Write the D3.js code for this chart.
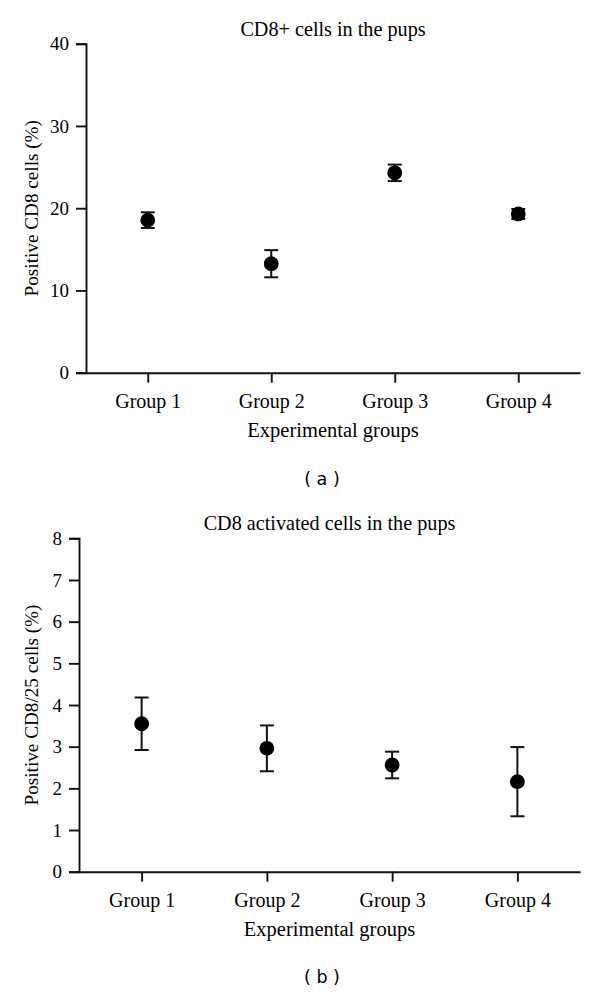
<!DOCTYPE html>
<html>
<head>
<meta charset="utf-8">
<script src="https://cdn.jsdelivr.net/npm/d3@7"></script>
<style>
  html, body { margin: 0; padding: 0; background: #fff; }
  svg { display: block; }
  .serif { font-family: "Liberation Serif", "Times New Roman", serif; fill: #000; }
  .cap { font-family: "DejaVu Sans", sans-serif; fill: #000; }
</style>
</head>
<body>
<svg id="chart" width="600" height="994"></svg>
<script>
// ---- data ----
const groups = ["Group 1", "Group 2", "Group 3", "Group 4"];

const titleA = "CD8+ cells in the pups";
const yLabelA = "Positive CD8 cells (%)";
const meanA = [18.55, 13.25, 24.3, 19.3];
const errA = [0.95, 1.65, 1.0, 0.6];
const ticksA = [0, 10, 20, 30, 40];

const titleB = "CD8 activated cells in the pups";
const yLabelB = "Positive CD8/25 cells (%)";
const meanB = [3.55, 2.96, 2.56, 2.16];
const errB = [0.63, 0.55, 0.32, 0.83];
const ticksB = [0, 1, 2, 3, 4, 5, 6, 7, 8];

const xLabel = "Experimental groups";

const svg = d3.select("#chart");

function panel(opt) {
  const g = svg.append("g");
  const x = d3.scalePoint().domain(groups).range([opt.left, opt.right]).padding(0.5);
  const y = d3.scaleLinear().domain([0, opt.max]).range([opt.bottom, opt.top]);

  // y axis
  const ya = g.append("g").attr("transform", `translate(${opt.left},0)`)
    .call(d3.axisLeft(y).tickValues(opt.ticks).tickSize(10).tickPadding(7).tickFormat(d3.format("d")));
  ya.attr("font-family", null).attr("font-size", null);
  ya.select(".domain").attr("stroke", "#111").attr("stroke-width", 1.9);
  ya.selectAll(".tick line").attr("stroke", "#111").attr("stroke-width", 1.9);
  ya.selectAll(".tick text").attr("class", "serif").style("font-size", "19px").attr("fill", "#000");

  // x axis
  const xa = g.append("g").attr("transform", `translate(0,${opt.bottom})`)
    .call(d3.axisBottom(x).tickSize(10).tickPadding(11).tickSizeOuter(0));
  xa.attr("font-family", null).attr("font-size", null);
  xa.select(".domain").attr("stroke", "#111").attr("stroke-width", 1.9);
  xa.selectAll(".tick line").attr("stroke", "#111").attr("stroke-width", 1.9);
  xa.selectAll(".tick text").attr("class", "serif").style("font-size", "20px").attr("fill", "#000");

  const cx = (opt.left + opt.right) / 2;
  // title
  g.append("text").attr("class", "serif").attr("x", cx).attr("y", opt.top - 8)
    .attr("text-anchor", "middle").style("font-size", "20.2px").text(opt.title);
  // x label
  g.append("text").attr("class", "serif").attr("x", cx).attr("y", opt.bottom + 64)
    .attr("text-anchor", "middle").style("font-size", "20.5px").text(xLabel);
  // y label
  g.append("text").attr("class", "serif")
    .attr("transform", `translate(${opt.ylabX},${(opt.top + opt.bottom) / 2}) rotate(-90)`)
    .attr("text-anchor", "middle").style("font-size", "19.2px").text(opt.ylabel);
  // caption
  g.append("text").attr("class", "cap").attr("x", 322).attr("y", opt.capY)
    .attr("text-anchor", "middle").style("font-size", "17.5px").attr("xml:space", "preserve")
    .text(opt.caption);

  // error bars
  const cap = 7;
  const eb = g.append("g").attr("stroke", "#111").attr("stroke-width", 2);
  groups.forEach((grp, i) => {
    const xi = x(grp), hi = y(opt.mean[i] + opt.err[i]), lo = y(opt.mean[i] - opt.err[i]);
    eb.append("line").attr("x1", xi).attr("x2", xi).attr("y1", hi).attr("y2", lo);
    eb.append("line").attr("x1", xi - cap).attr("x2", xi + cap).attr("y1", hi).attr("y2", hi);
    eb.append("line").attr("x1", xi - cap).attr("x2", xi + cap).attr("y1", lo).attr("y2", lo);
  });
  // points
  g.append("g").selectAll("circle").data(opt.mean).join("circle")
    .attr("cx", (d, i) => x(groups[i])).attr("cy", d => y(d)).attr("r", 7.4).attr("fill", "#000");
}

panel({ left: 86, right: 580, top: 43.7, bottom: 372.7, max: 40, ticks: ticksA,
  mean: meanA, err: errA, title: titleA, ylabel: yLabelA, ylabX: 38, caption: "( a )", capY: 485 });
panel({ left: 79, right: 580, top: 538.3, bottom: 871.7, max: 8, ticks: ticksB,
  mean: meanB, err: errB, title: titleB, ylabel: yLabelB, ylabX: 38, caption: "( b )", capY: 983 });
</script>
</body>
</html>
